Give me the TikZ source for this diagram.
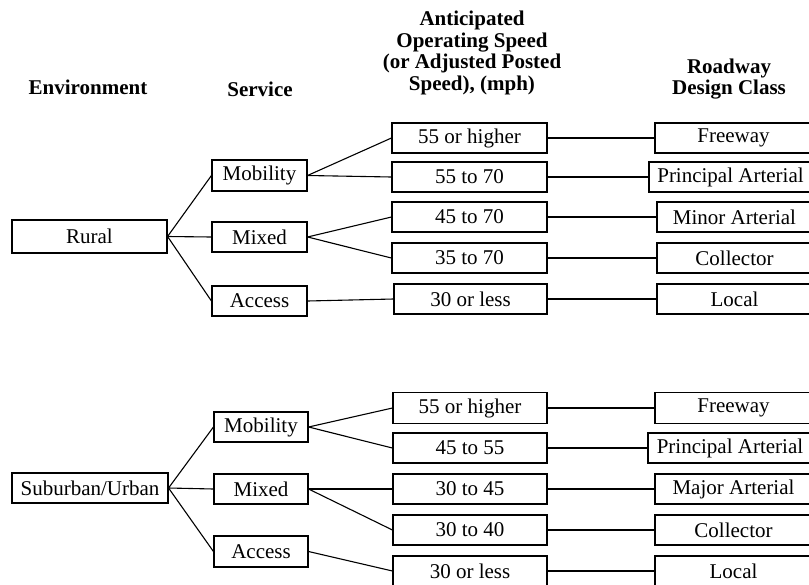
\documentclass[tikz,border=0pt]{standalone}
\usepackage{fontspec}
\setmainfont{Liberation Serif}
\begin{document}
\begin{tikzpicture}[x=1pt,y=-1pt,
  box/.style={draw, line width=1.1pt, inner sep=0pt, minimum height=30pt, font=\fontsize{21}{24}\selectfont},
  conn/.style={line width=1.1pt},
  hdr/.style={font=\fontsize{21}{21.7}\selectfont\bfseries, align=center, inner sep=0pt}]
\useasboundingbox (0,0) rectangle (809,584);
\clip (0,0) rectangle (809,584);
% headers
\node[hdr] (hEnv) at (88,87) {Environment};
\node[hdr] (hSrv) at (260,89) {Service};
\node[hdr] (hSpd) at (472,53) {Anticipated\\Operating Speed\\(or Adjusted Posted\\Speed), (mph)};
\node[hdr] (hCls) at (729,79) {Roadway\\Design Class};
% rural
\node[box, minimum width=155pt, minimum height=33pt] (rural) at (89.5,236.5) {Rural};
\node[box, minimum width=95pt, minimum height=31pt] (rmob) at (259.5,175.5) {Mobility};
\node[box, minimum width=95pt] (rmix) at (259.5,237) {Mixed};
\node[box, minimum width=95pt] (racc) at (259.5,301) {Access};
\node[box, minimum width=155pt] (rs1) at (469.5,138) {55 or higher};
\node[box, minimum width=155pt] (rs2) at (469.5,177) {55 to 70};
\node[box, minimum width=155pt] (rs3) at (469.5,217) {45 to 70};
\node[box, minimum width=155pt] (rs4) at (469.5,258) {35 to 70};
\node[box, minimum width=153pt] (rs5) at (470.5,299) {30 or less};
\node[box, minimum width=157pt] (rc1) at (733.5,138) {Freeway};
\node[box, minimum width=163pt] (rc2) at (730.5,177) {Principal Arterial};
\node[box, minimum width=155pt] (rc3) at (734.5,217) {Minor Arterial};
\node[box, minimum width=155pt] (rc4) at (734.5,258) {Collector};
\node[box, minimum width=155pt] (rc5) at (734.5,299) {Local};
\draw[conn] (rural.east) -- (rmob.west);
\draw[conn] (rural.east) -- (rmix.west);
\draw[conn] (rural.east) -- (racc.west);
\draw[conn] (rmob.east) -- (rs1.west);
\draw[conn] (rmob.east) -- (rs2.west);
\draw[conn] (rmix.east) -- (rs3.west);
\draw[conn] (rmix.east) -- (rs4.west);
\draw[conn] (racc.east) -- (rs5.west);
\draw[conn] (rs1.east) -- (rc1.west);
\draw[conn] (rs2.east) -- (rc2.west);
\draw[conn] (rs3.east) -- (rc3.west);
\draw[conn] (rs4.east) -- (rc4.west);
\draw[conn] (rs5.east) -- (rc5.west);
% suburban/urban
\node[box, minimum width=156pt] (urban) at (90,488) {Suburban/Urban};
\node[box, minimum width=94pt] (umob) at (261,427) {Mobility};
\node[box, minimum width=94pt] (umix) at (261,489) {Mixed};
\node[box, minimum width=94pt, minimum height=31pt] (uacc) at (261,551.5) {Access};
\node[box, minimum width=154pt, minimum height=31pt] (us1) at (470,408) {55 or higher};
\node[box, minimum width=154pt] (us2) at (470,448) {45 to 55};
\node[box, minimum width=154pt] (us3) at (470,489) {30 to 45};
\node[box, minimum width=154pt] (us4) at (470,530) {30 to 40};
\node[box, minimum width=154pt] (us5) at (470,571) {30 or less};
\node[box, minimum width=157pt, minimum height=31pt] (uc1) at (733.5,408) {Freeway};
\node[box, minimum width=164pt] (uc2) at (730,448) {Principal Arterial};
\node[box, minimum width=157pt] (uc3) at (733.5,489) {Major Arterial};
\node[box, minimum width=157pt] (uc4) at (733.5,530) {Collector};
\node[box, minimum width=157pt] (uc5) at (733.5,571) {Local};
\draw[conn] (urban.east) -- (umob.west);
\draw[conn] (urban.east) -- (umix.west);
\draw[conn] (urban.east) -- (uacc.west);
\draw[conn] (umob.east) -- (us1.west);
\draw[conn] (umob.east) -- (us2.west);
\draw[conn] (umix.east) -- (us3.west);
\draw[conn] (umix.east) -- (us4.west);
\draw[conn] (uacc.east) -- (us5.west);
\draw[conn] (us1.east) -- (uc1.west);
\draw[conn] (us2.east) -- (uc2.west);
\draw[conn] (us3.east) -- (uc3.west);
\draw[conn] (us4.east) -- (uc4.west);
\draw[conn] (us5.east) -- (uc5.west);
\end{tikzpicture}
\end{document}
